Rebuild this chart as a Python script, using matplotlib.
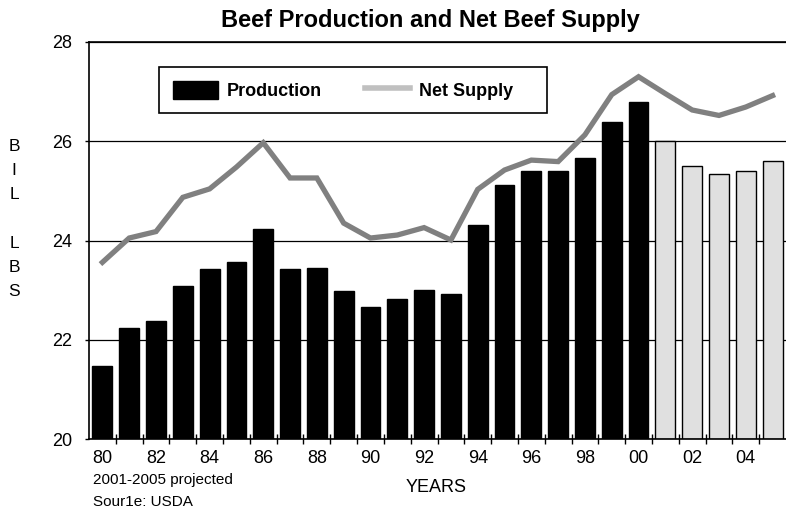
import matplotlib
matplotlib.use("Agg")
import matplotlib.pyplot as plt
from matplotlib.lines import Line2D
from matplotlib.patches import Patch
import numpy as np

years = list(range(1980, 2006))
production = [21.48, 22.23, 22.38, 23.08, 23.43, 23.57, 24.23, 23.42, 23.44, 22.98,
              22.65, 22.82, 23.01, 22.92, 24.31, 25.11, 25.41, 25.41, 25.67, 26.39,
              26.79, 26.00, 25.51, 25.35, 25.40, 25.60]
net_supply = [23.56, 24.05, 24.18, 24.87, 25.04, 25.48, 25.97, 25.26, 25.26, 24.35,
              24.05, 24.11, 24.26, 24.01, 25.03, 25.42, 25.62, 25.59, 26.13, 26.94,
              27.30, 26.96, 26.63, 26.52, 26.69, 26.92]
first_projected = 2001
tick_labels = ["80", "82", "84", "86", "88", "90", "92", "94", "96", "98", "00", "02", "04"]

FONT = ["Liberation Sans Narrow", "Liberation Sans", "DejaVu Sans"]
plt.rcParams["font.family"] = FONT

fig = plt.figure(figsize=(7.86, 5.12), dpi=100)
ax = fig.add_axes([89/786, 1 - 439/512, 1 - 89/786, (439 - 42)/512])

x = np.arange(len(years))
colors = ["black" if y < first_projected else "#e0e0e0" for y in years]
ax.bar(x, [p - 20 for p in production], bottom=20, width=0.74, color=colors,
       edgecolor="black", linewidth=1.0, zorder=2)
ax.plot(x, net_supply, color="#808080", linewidth=3.8, zorder=3, solid_joinstyle="miter")

ax.set_xlim(-0.5, len(years) - 0.5)
ax.set_ylim(20, 28)
ax.set_yticks([20, 22, 24, 26, 28])
ax.set_yticklabels(["20", "22", "24", "26", "28"], fontsize=13)
ax.yaxis.grid(True, color="black", linewidth=0.9, zorder=1)
ax.set_axisbelow(True)
ax.tick_params(axis="y", direction="out", length=3, width=1, pad=9)

ax.set_xticks(np.arange(0.5, len(years) - 0.5, 1.0))
ax.set_xticklabels([])
ax.tick_params(axis="x", which="major", direction="inout", length=7, width=1)
ax.set_xticks(x[::2], minor=True)
ax.set_xticklabels(tick_labels, minor=True, fontsize=13)
ax.tick_params(axis="x", which="minor", length=0, pad=8)

for s in ["left", "bottom", "top"]:
    ax.spines[s].set_linewidth(1.2)
ax.spines["right"].set_visible(False)

fig.text(0.5 * (222 + 638) / 786, 1 - 20/512, "Beef Production and Net Beef Supply",
         ha="center", va="center", fontsize=17, fontweight="bold")
fig.text(14/786, 1 - 219/512, "B\nI\nL\n\nL\nB\nS", ha="center", va="center",
         fontsize=12.5, linespacing=1.77)
fig.text(93/786, 1 - 480/512, "2001-2005 projected", ha="left", va="center", fontsize=11)
fig.text(93/786, 1 - 502/512, "Sour1e: USDA", ha="left", va="center", fontsize=11)
fig.text(436/786, 1 - 487/512, "YEARS", ha="center", va="center", fontsize=13)

handles = [Patch(facecolor="black", edgecolor="black"),
           Line2D([0], [0], color="#c0c0c0", linewidth=4)]
leg = ax.legend(handles, ["Production", "Net Supply    "], ncol=2,
                loc="upper left", bbox_to_anchor=(70/697, 1 - 25/397),
                frameon=True, fancybox=False, edgecolor="black", framealpha=1,
                prop={"family": FONT, "weight": "bold", "size": 13},
                handlelength=2.5, handleheight=1.2, columnspacing=2.4,
                handletextpad=0.5, borderpad=0.75, borderaxespad=0)
leg.get_frame().set_linewidth(1.2)

fig.savefig("out.png", dpi=100)
